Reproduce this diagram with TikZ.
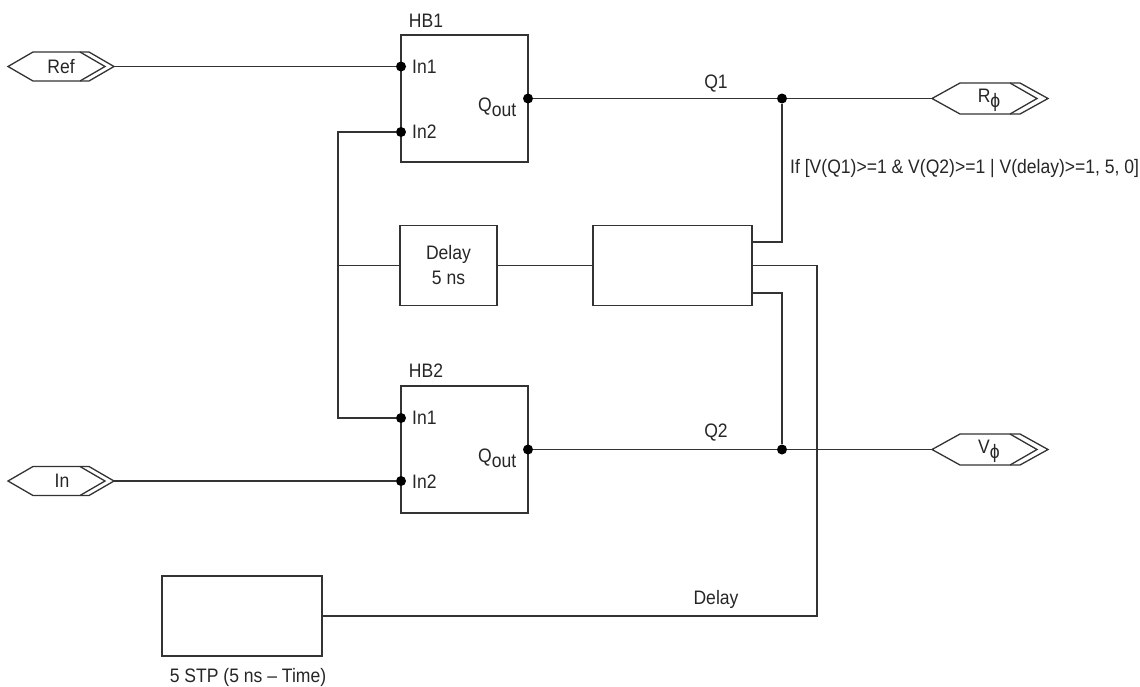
\documentclass[tikz,border=0pt]{standalone}
\usepackage{fontspec}
\setmainfont{Liberation Sans}[FakeStretch=0.9]
\tikzset{x=1pt,y=-1pt,
 wire/.style={line width=1.3pt,color=black!80,line join=miter},
 blk/.style={draw=black!80,line width=1.3pt,rectangle,inner sep=0pt,align=center,font=\fs,text=black!85},
 dot/.style={circle,fill=black,draw=none,minimum size=10pt,inner sep=0pt},
 lab/.style={inner sep=0pt,font=\fs,text=black!85}}
\newcommand{\fs}{\fontsize{19.5}{25}\selectfont}
\newcommand{\sbs}[1]{\raisebox{-0.26em}{\fs #1}}
% name, left x, centre y, half height, left corner, inner corner, inner tip, outer corner, outer tip
\newcommand{\hexport}[9]{%
 \coordinate (#1L) at (#2,#3);
 \coordinate (#1R) at (#9,#3);
 \draw[wire] (#2,#3) -- (#5,#3-#4) -- (#6,#3-#4) -- (#7,#3) -- (#6,#3+#4) -- (#5,#3+#4) -- cycle;
 \draw[wire] (#6,#3-#4) -- (#8,#3-#4) -- (#9,#3) -- (#8,#3+#4) -- (#6,#3+#4);
}
\begin{document}
\begin{tikzpicture}
\useasboundingbox (0,0) rectangle (1140,686);
% boxes
\node[blk,minimum width=127pt,minimum height=127pt] (hb1) at (464.5,98.5) {};
\node[blk,minimum width=127pt,minimum height=127pt] (hb2) at (464.5,449.5) {};
\node[blk,minimum width=97pt,minimum height=80pt] (del) at (448.5,265.5) {Delay\\5 ns};
\node[blk,minimum width=159pt,minimum height=80pt] (mid) at (672.5,265.5) {};
\node[blk,minimum width=160pt,minimum height=80pt] (stp) at (242,616) {};
% ports
\hexport{ref}{8}{66.5}{14.5}{33}{80}{105}{89}{114}
\hexport{in}{8}{481}{14.5}{33}{80}{105}{89}{114}
\hexport{rp}{932}{98.5}{15.5}{960}{1010}{1037}{1020}{1048}
\hexport{vp}{932}{449.5}{15.5}{960}{1010}{1037}{1020}{1048}
\node[lab] (reft) at (61,66.5) {Ref};
\node[lab] (int) at (62,481) {In};
\node[lab] (rpt) at (989,100) {R\sbs{ϕ}};
\node[lab] (vpt) at (989,451) {V\sbs{ϕ}};
% dots
\node[dot] (a1) at (401,66.5) {};
\node[dot] (a2) at (401,132) {};
\node[dot] (b1) at (401,418) {};
\node[dot] (b2) at (401,481) {};
\node[dot] (qa) at (528,98.5) {};
\node[dot] (qb) at (528,449.5) {};
\node[dot] (ja) at (782,98.5) {};
\node[dot] (jb) at (782,449.5) {};
% helpers
\coordinate (bus) at (338,265.5);
\coordinate (m1) at (752,242);
\coordinate (m2) at (752,265.5);
\coordinate (m3) at (752,293);
% wires
\draw[wire] (refR) -- (a1);
\draw[wire] (inR) -- (b2);
\draw[wire] (qa) -- (ja) -- (rpL);
\draw[wire] (qb) -- (jb) -- (vpL);
\draw[wire] (a2) -| (bus) |- (b1);
\draw[wire] (bus) -- (del.west);
\draw[wire] (del.east) -- (mid.west);
\draw[wire] (m1) -| (ja);
\draw[wire] (m3) -| (jb);
\draw[wire] (m2) -- (817,265.5) |- (stp.east);
% labels
\node[lab] at (426,21) {HB1};
\node[lab] at (426,371) {HB2};
\node[lab,anchor=west] at (412,67) {In1};
\node[lab,anchor=west] at (412,132) {In2};
\node[lab,anchor=west] at (412,418) {In1};
\node[lab,anchor=west] at (412,482) {In2};
\node[lab,anchor=base west] at (478,111) {Q\sbs{out}};
\node[lab,anchor=base west] at (478,462) {Q\sbs{out}};
\node[lab] at (716,84) {Q1};
\node[lab] at (716,433) {Q2};
\node[lab] at (716,599) {Delay};
\node[lab,anchor=west] at (790,168) {If [V(Q1)>=1 \& V(Q2)>=1 | V(delay)>=1, 5, 0]};
\node[lab] at (248,677) {5 STP (5 ns – Time)};
\end{tikzpicture}
\end{document}
